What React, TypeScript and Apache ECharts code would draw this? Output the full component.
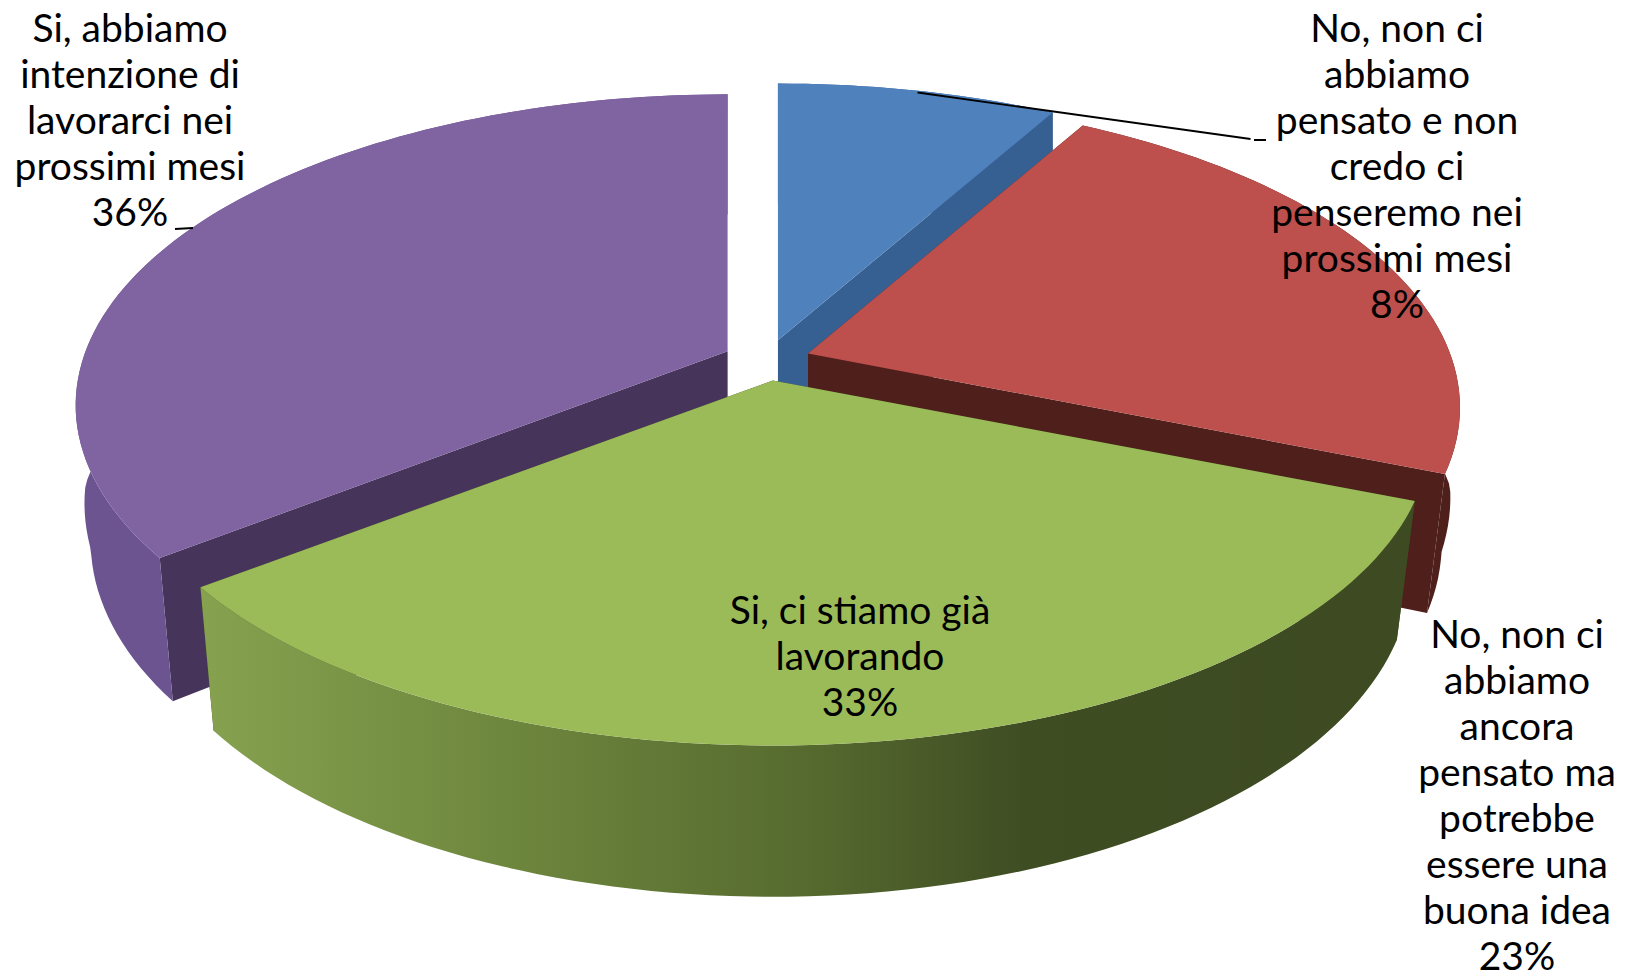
import React, { useEffect, useRef } from "react";
import * as echarts from "echarts";

const sliceNames = [
  "No, non ci\nabbiamo\npensato e non\ncredo ci\npenseremo nei\nprossimi mesi\n8%",
  "No, non ci\nabbiamo\nancora\npensato ma\npotrebbe\nessere una\nbuona idea\n23%",
  "Si, ci stiamo già\nlavorando\n33%",
  "Si, abbiamo\nintenzione di\nlavorarci nei\nprossimi mesi\n36%",
];
const sliceValues = [8.2, 22.9, 33.4, 35.5];
const topColors = ["#4F81BD", "#BD504D", "#9BBB59", "#8064A2"];
const faceColors = ["#376092", "#4F1F1C", "#3D4A22", "#47345A"];
const sliceWiden = [1, 1, 1.008, 1];
const drawOrder = [0, 3, 1, 2];
const labelX = [1397, 1517, 860, 130];
const labelY = [4, 610, 586, 4];

const CX = 766.8, CY = 360.2, A = 642, B = 301.5, K = 0.174, EXPLODE = 0.068;
const DEPTH = 133, SY = 1.05;
const RAD = Math.PI / 180;

const total = sliceValues.reduce((s, v) => s + v, 0);
const starts: number[] = [];
sliceValues.reduce((acc, v, i) => {
  starts[i] = (acc / total) * 360;
  return acc + v;
}, 0);

function wallFill(i: number) {
  if (i === 2) {
    return new echarts.graphic.LinearGradient(0, 0, 1, 0, [
      { offset: 0, color: "#86A24F" },
      { offset: 0.25, color: "#6E873E" },
      { offset: 0.5, color: "#566A2F" },
      { offset: 0.68, color: "#3F4D23" },
      { offset: 1, color: "#3D4A22" },
    ]);
  }
  if (i === 3) return "#6C5491";
  return faceColors[i];
}

function bottomScaleX(u: number, v: number) {
  const base = u < 0 ? 0.977 : 0.972;
  const t = Math.max(0, Math.min(1, (v + 0.2) / 0.2));
  return base + (1 - base) * t;
}

function renderSlice(params: any) {
  const i = drawOrder[params.dataIndex];
  const a0 = starts[i];
  const a1 = a0 + (sliceValues[i] / total) * 360;
  const mid = ((a0 + a1) / 2) * RAD;
  const ox = CX + A * EXPLODE * Math.sin(mid);
  const oy = CY - B * EXPLODE * Math.cos(mid);
  const ax = A * sliceWiden[i];
  const top = (deg: number) => {
    const u = Math.sin(deg * RAD), v = Math.cos(deg * RAD), w = 1 + K * v;
    return [ox + (ax * u) / w, oy - (B * v) / w];
  };
  const bottom = (deg: number) => {
    const u = Math.sin(deg * RAD), v = Math.cos(deg * RAD), w = 1 + K * v;
    return [ox + (bottomScaleX(u, v) * ax * u) / w, oy + DEPTH - (SY * B * v) / w];
  };
  const topArc: number[][] = [];
  const botArc: number[][] = [];
  const n = Math.max(2, Math.ceil((a1 - a0) / 1.5));
  for (let j = 0; j <= n; j++) {
    const d = a0 + ((a1 - a0) * j) / n;
    topArc.push(top(d));
    botArc.push(bottom(d));
  }
  const apex = [ox, oy];
  const apexB = [ox, oy + DEPTH];
  const poly = (points: number[][], fill: any) => ({
    type: "polygon",
    shape: { points },
    style: { fill },
  });
  return {
    type: "group",
    children: [
      poly([apex, top(a0), bottom(a0), apexB], faceColors[i]),
      poly([apex, top(a1), bottom(a1), apexB], faceColors[i]),
      poly([...topArc, ...botArc.slice().reverse()], wallFill(i)),
      poly([apex, ...topArc], topColors[i]),
    ],
  };
}

export default function App() {
  const ref = useRef<HTMLDivElement>(null);
  useEffect(() => {
    const chart = echarts.init(ref.current!, undefined, { renderer: "svg" });
    chart.setOption({
      animation: false,
      backgroundColor: "#ffffff",
      series: [
        {
          type: "custom",
          coordinateSystem: "none",
          silent: true,
          clip: false,
          renderItem: renderSlice,
          data: drawOrder.map((i) => ({ name: sliceNames[i], value: [sliceValues[i]] })),
        },
      ],
      graphic: [
        ...sliceNames.map((text, i) => ({
          type: "text",
          z: 20,
          x: labelX[i],
          y: labelY[i],
          style: {
            text,
            fill: "#000000",
            font: '39px Lato, "Noto Sans", sans-serif',
            lineHeight: 46,
            textAlign: "center",
            textVerticalAlign: "top",
          },
        })),
        { type: "line", z: 21, shape: { x1: 917.5, y1: 92.5, x2: 1250.5, y2: 139 }, style: { stroke: "#000", lineWidth: 1.8 } },
        { type: "line", z: 21, shape: { x1: 1254, y1: 140, x2: 1266, y2: 140 }, style: { stroke: "#000", lineWidth: 2 } },
        { type: "line", z: 21, shape: { x1: 175, y1: 229, x2: 193, y2: 228 }, style: { stroke: "#000", lineWidth: 2 } },
      ],
    });
    return () => chart.dispose();
  }, []);
  return <div ref={ref} style={{ position: "fixed", left: 0, top: 0, width: 1630, height: 972 }} />;
}
